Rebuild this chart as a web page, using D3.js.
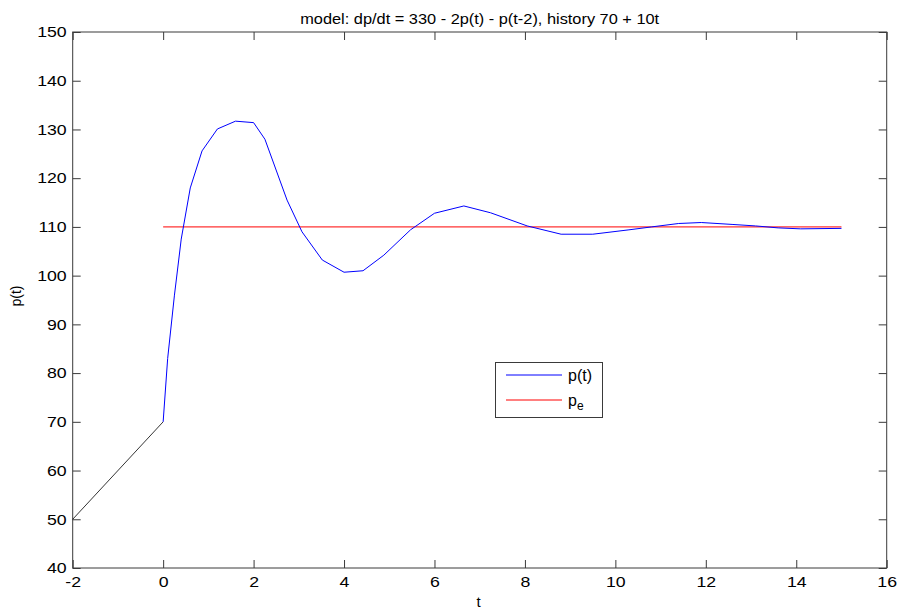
<!DOCTYPE html>
<html>
<head>
<meta charset="utf-8">
<script src="https://cdn.jsdelivr.net/npm/d3@7"></script>
<style>
  body { margin: 0; background: #fff; }
  text { font-family: "Liberation Sans", Arial, sans-serif; }
</style>
</head>
<body>
<svg width="899" height="611"></svg>
<script>
// history segment p(t) = 70 + 10t on [-2, 0]
var histT = [-2, 0];
var histP = [50, 70];

// solution p(t)
var solT = [0, 0.1, 0.25, 0.4, 0.6, 0.86, 1.2, 1.6, 2.0, 2.25, 2.74, 3.07, 3.52, 4.0, 4.42, 4.88, 5.47, 6.0, 6.65, 7.24, 8.05, 8.8, 9.5, 10.3, 10.8, 11.4, 11.9, 12.6, 13.1, 13.6, 14.1, 15];
var solP = [70, 83, 96, 107.5, 118, 125.6, 130.1, 131.7, 131.4, 128, 115.5, 109, 103.2, 100.7, 101, 104.2, 109.4, 112.8, 114.3, 112.9, 110.2, 108.5, 108.5, 109.4, 110.0, 110.7, 110.9, 110.5, 110.2, 109.8, 109.6, 109.7];

// equilibrium p_e
var eqT = [0, 15];
var eqP = [110, 110];

var xTicks = [-2, 0, 2, 4, 6, 8, 10, 12, 14, 16];
var yTicks = [40, 50, 60, 70, 80, 90, 100, 110, 120, 130, 140, 150];

var svg = d3.select("svg"),
  axL = 72.7, axR = 886.7, axT = 32, axB = 568;

var x = d3.scaleLinear().domain([-2, 16]).range([axL, axR]);
var y = d3.scaleLinear().domain([40, 150]).range([axB, axT]);

var axisColor = "#3a3a3a";
var fmt = function (d) { return String(d); };

// the original renders its glyphs a little wider than Liberation Sans
function stretch(sel, k) {
  sel.each(function () {
    var w = this.getComputedTextLength();
    d3.select(this).attr("textLength", w * k).attr("lengthAdjust", "spacingAndGlyphs");
  });
}

function styleAxis(g, labels) {
  g.select(".domain").remove();
  g.selectAll(".tick line").attr("stroke", axisColor);
  g.selectAll(".tick text")
    .attr("fill", "#000")
    .style("font-size", "15px")
    .style("display", labels ? null : "none");
  if (labels) stretch(g.selectAll(".tick text"), 1.18);
}

svg.append("g")
  .attr("transform", "translate(0," + axB + ")")
  .call(d3.axisBottom(x).tickValues(xTicks).tickSize(-8).tickPadding(8).tickFormat(fmt))
  .call(styleAxis, true);

svg.append("g")
  .attr("transform", "translate(0," + axT + ")")
  .call(d3.axisTop(x).tickValues(xTicks).tickSize(-8))
  .call(styleAxis, false);

svg.append("g")
  .attr("transform", "translate(" + axL + ",0)")
  .call(d3.axisLeft(y).tickValues(yTicks).tickSize(-8).tickPadding(6).tickFormat(fmt))
  .call(styleAxis, true);

svg.append("g")
  .attr("transform", "translate(" + axR + ",0)")
  .call(d3.axisRight(y).tickValues(yTicks).tickSize(-8))
  .call(styleAxis, false);

// box
svg.append("rect")
  .attr("x", axL).attr("y", axT)
  .attr("width", axR - axL).attr("height", axB - axT)
  .attr("fill", "none").attr("stroke", axisColor).attr("stroke-width", 1);

var line = d3.line()
  .x(function (d) { return x(d[0]); })
  .y(function (d) { return y(d[1]); });

svg.append("path")
  .datum(d3.zip(histT, histP))
  .attr("d", line).attr("fill", "none").attr("stroke", "#000").attr("stroke-width", 0.8);

svg.append("path")
  .datum(d3.zip(eqT, eqP))
  .attr("d", line).attr("fill", "none").attr("stroke", "#ff0000").attr("stroke-width", 1);

svg.append("path")
  .datum(d3.zip(solT, solP))
  .attr("d", line).attr("fill", "none").attr("stroke", "#0000ff").attr("stroke-width", 1);

// title and labels
svg.append("text")
  .attr("x", (axL + axR) / 2).attr("y", 24)
  .attr("text-anchor", "middle").style("font-size", "15px")
  .text("model: dp/dt = 330 - 2p(t) - p(t-2), history 70 + 10t")
  .call(stretch, 1.09);

svg.append("text")
  .attr("x", (axL + axR) / 2 - 1).attr("y", 607)
  .attr("text-anchor", "middle").style("font-size", "15px")
  .text("t");

svg.append("text")
  .attr("transform", "translate(21,296) rotate(-90)")
  .attr("text-anchor", "middle").style("font-size", "14px")
  .text("p(t)");

// legend
var leg = svg.append("g");
leg.append("rect")
  .attr("x", 495.5).attr("y", 362.5).attr("width", 107).attr("height", 55)
  .attr("fill", "#fff").attr("stroke", axisColor);

var legItems = [
  { name: "p(t)", color: "#0000ff" },
  { name: "p", sub: "e", color: "#ff0000" }
];

legItems.forEach(function (d, i) {
  var yy = 375 + i * 25;
  leg.append("line")
    .attr("x1", 506).attr("x2", 562).attr("y1", yy).attr("y2", yy)
    .attr("stroke", d.color).attr("stroke-width", 1);
  var t = leg.append("text")
    .attr("x", 568).attr("y", yy + 6).style("font-size", "16px")
    .text(d.name);
  if (d.sub) {
    t.append("tspan").attr("dy", 4).style("font-size", "12px").text(d.sub);
  }
});
</script>
</body>
</html>
